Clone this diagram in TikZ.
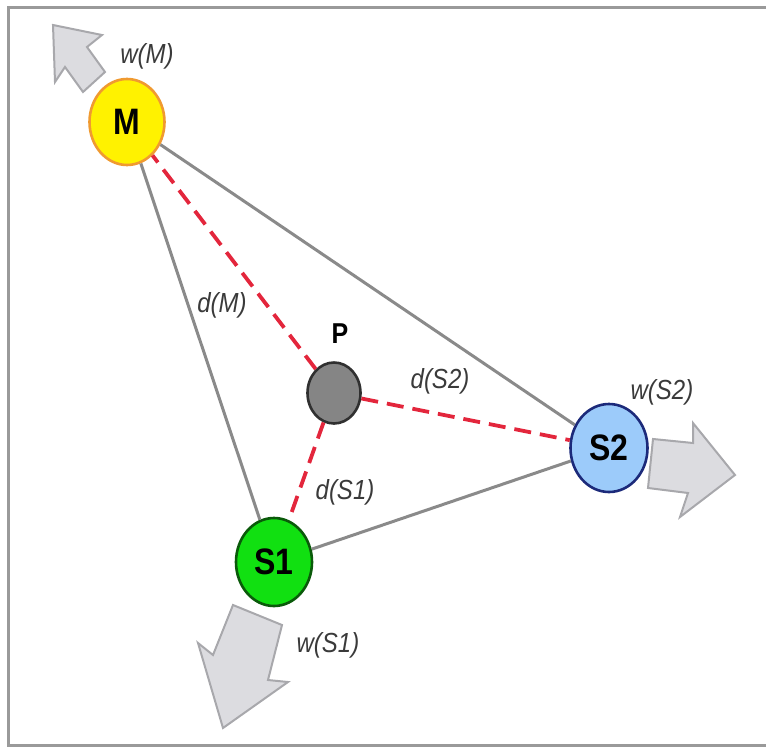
\documentclass[tikz,border=0pt]{standalone}
\usepackage{fontspec}
\setmainfont{Liberation Sans}
\usetikzlibrary{shapes.geometric}
\definecolor{frameg}{HTML}{9A9A9A}
\definecolor{edgeg}{HTML}{8A8A8A}
\definecolor{dred}{HTML}{E3263C}
\definecolor{mfill}{HTML}{FFF200}
\definecolor{mdraw}{HTML}{F09A30}
\definecolor{s2fill}{HTML}{9CCBFA}
\definecolor{s2draw}{HTML}{1C2A7A}
\definecolor{s1fill}{HTML}{11E011}
\definecolor{s1draw}{HTML}{0A5A0A}
\definecolor{pfill}{HTML}{858585}
\definecolor{pdraw}{HTML}{303030}
\definecolor{arrfill}{HTML}{DCDCE0}
\definecolor{arrdraw}{HTML}{A8A8AC}
\definecolor{txt}{HTML}{3A3A3A}
\newcommand{\stre}[1]{\scalebox{1}[1.15]{#1}}
\tikzset{
  ball/.style={ellipse, inner sep=0pt, line width=2.6pt, font=\fontsize{32}{32}\selectfont\bfseries},
  lbl/.style={text=txt, inner sep=0pt, font=\fontsize{24}{24}\selectfont\itshape},
  edgeline/.style={draw=edgeg, line width=3pt},
  distline/.style={draw=dred, line width=3.8pt, dash pattern=on 17pt off 9pt},
  blockarrow/.style={fill=arrfill, draw=arrdraw, line width=2pt, line join=miter},
}
\begin{document}
\begin{tikzpicture}[x=1pt,y=-1pt]
\useasboundingbox (0,0) rectangle (766,747);
% frame (no right side visible)
\draw[frameg, line width=3pt] (766,7) -- (8,7) -- (8,745) -- (766,745);
% block arrows
\draw[blockarrow] (83,92) -- (65,67) -- (55,82) -- (53,25) -- (102,35) -- (87,47) -- (105,72) -- cycle;
\draw[blockarrow] (653,439) -- (693,443) -- (693,423) -- (735,475) -- (680,517) -- (688,493) -- (648,488) -- cycle;
\draw[blockarrow] (233,605) -- (282,625) -- (268,680) -- (288,682) -- (223,728) -- (198,643) -- (213,655) -- cycle;
% nodes
\node[ball, fill=mfill, draw=mdraw, minimum width=75pt, minimum height=86pt] (M) at (127,122) {\stre{M}};
\node[ball, fill=pfill, draw=pdraw, minimum width=53pt, minimum height=61pt] (P) at (334,393) {};
\node[ball, fill=s2fill, draw=s2draw, minimum width=77pt, minimum height=88pt] (S2) at (609,448) {\stre{S2}};
\node[ball, fill=s1fill, draw=s1draw, minimum width=76pt, minimum height=88pt] (S1) at (274,562) {\stre{S1}};
% edges
\draw[edgeline] (M) -- (S2);
\draw[edgeline] (M) -- (S1);
\draw[edgeline] (S1) -- (S2);
\draw[distline] (P) -- (M);
\draw[distline] (P) -- (S2);
\draw[distline] (P) -- (S1);
% labels
\node[inner sep=0pt, font=\fontsize{25}{25}\selectfont\bfseries] (Plbl) at (340,334) {\stre{P}};
\node[lbl] (wM) at (147,56) {\stre{w(M)}};
\node[lbl] (wS2) at (662,392) {\stre{w(S2)}};
\node[lbl] (wS1) at (328,645) {\stre{w(S1)}};
\node[lbl] (dM) at (222,305) {\stre{d(M)}};
\node[lbl] (dS2) at (440,381) {\stre{d(S2)}};
\node[lbl] (dS1) at (345,492) {\stre{d(S1)}};
\end{tikzpicture}
\end{document}
